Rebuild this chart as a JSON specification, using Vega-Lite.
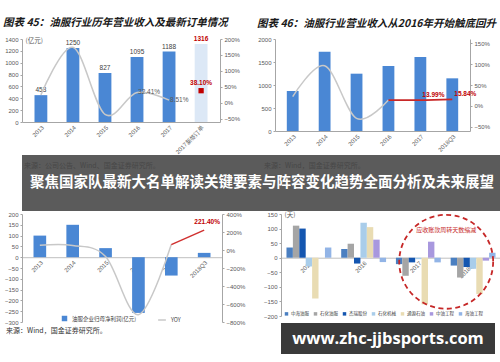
{
 "$schema": "https://vega.github.io/schema/vega-lite/v6.json",
 "background": "white",
 "padding": {"top": 18, "left": 0, "right": 0, "bottom": 0},
 "spacing": 0,
 "resolve": {"scale": {"color": "independent", "stroke": "independent"}, "legend": {"color": "independent", "stroke": "independent"}},
 "config": {
  "font": "Liberation Sans",
  "view": {"stroke": null},
  "axis": {"labelFontSize": 6, "labelColor": "#595959", "labelFont": "Liberation Sans", "domainColor": "#a6a6a6", "tickColor": "#a6a6a6", "tickSize": 2, "grid": false, "labelPadding": 2, "labelOverlap": false, "labelBound": false, "labelFlush": false},
  "legend": {"labelFont": "Noto Sans CJK SC", "labelColor": "#404040"}
 },
 "datasets": {
  "c45": [
   {"year": "2013", "rev": 453, "yoy": 0.25, "kind": "a"},
   {"year": "2014", "rev": 1250, "yoy": 1.74, "kind": "a"},
   {"year": "2015", "rev": 827, "yoy": -0.36, "kind": "a"},
   {"year": "2016", "rev": 1095, "yoy": 0.3241, "kind": "a", "ylab": "32.41%"},
   {"year": "2017", "rev": 1188, "yoy": 0.0851, "kind": "a", "ylab": "8.51%"},
   {"year": "2017新签订单", "rev": 1316, "yoy": 0.381, "kind": "o", "ylab": "38.10%"}
  ],
  "c46b": [
   {"year": "2013", "rev": 870}, {"year": "2014", "rev": 1724}, {"year": "2015", "rev": 1246},
   {"year": "2016", "rev": 1413}, {"year": "2017", "rev": 1609}, {"year": "2018Q3", "rev": 1145}
  ],
  "c46l": [
   {"year": "2013", "yoy": 0.22, "seg": "g"},
   {"year": "2014", "yoy": 0.96, "seg": "g"},
   {"year": "2015", "yoy": -0.3, "seg": "g"},
   {"year": "2016", "yoy": 0.14, "seg": "g"},
   {"year": "2016", "yoy": 0.14, "seg": "r"},
   {"year": "2017", "yoy": 0.1399, "seg": "r", "lab": "13.99%"},
   {"year": "2018Q3", "yoy": 0.1584, "seg": "r", "lab": "15.84%"}
  ],
  "c47b": [
   {"year": "2013", "np": 100, "series": "油服企业归母净利润(亿元)"}, {"year": "2014", "np": 150, "series": "油服企业归母净利润(亿元)"}, {"year": "2015", "np": 42, "series": "油服企业归母净利润(亿元)"},
   {"year": "2016", "np": -258, "series": "油服企业归母净利润(亿元)"}, {"year": "2017", "np": -85, "series": "油服企业归母净利润(亿元)"}, {"year": "2018Q3", "np": 20, "series": "油服企业归母净利润(亿元)"}
  ],
  "c47l": [
   {"year": "2013", "yoy": 0.52, "seg": "YOY"},
   {"year": "2014", "yoy": 0.5, "seg": "YOY"},
   {"year": "2015", "yoy": -0.72, "seg": "YOY"},
   {"year": "2016", "yoy": -7.19, "seg": "YOY"},
   {"year": "2017", "yoy": 0.6, "seg": "YOY"},
   {"year": "2017", "yoy": 0.6, "seg": "r"},
   {"year": "2018Q3", "yoy": 2.214, "seg": "r", "lab": "221.40%"}
  ],
  "c48": [
   {"year": "2015", "company": "中海油服", "v": 35}, {"year": "2015", "company": "石化油服", "v": 110}, {"year": "2015", "company": "杰瑞股份", "v": 100}, {"year": "2015", "company": "石化机械", "v": -30}, {"year": "2015", "company": "通源石油", "v": -140}, {"year": "2015", "company": "中油工程", "v": 0}, {"year": "2015", "company": "海油工程", "v": 35},
   {"year": "2016", "company": "中海油服", "v": 30}, {"year": "2016", "company": "石化油服", "v": 48}, {"year": "2016", "company": "杰瑞股份", "v": -20}, {"year": "2016", "company": "石化机械", "v": 120}, {"year": "2016", "company": "通源石油", "v": 105}, {"year": "2016", "company": "中油工程", "v": 62}, {"year": "2016", "company": "海油工程", "v": -15},
   {"year": "2017", "company": "中海油服", "v": -22}, {"year": "2017", "company": "石化油服", "v": -62}, {"year": "2017", "company": "杰瑞股份", "v": -16}, {"year": "2017", "company": "石化机械", "v": -5}, {"year": "2017", "company": "通源石油", "v": -160}, {"year": "2017", "company": "中油工程", "v": 55}, {"year": "2017", "company": "海油工程", "v": -16},
   {"year": "2018Q3", "company": "中海油服", "v": -27}, {"year": "2018Q3", "company": "石化油服", "v": -68}, {"year": "2018Q3", "company": "杰瑞股份", "v": -32}, {"year": "2018Q3", "company": "石化机械", "v": -38}, {"year": "2018Q3", "company": "通源石油", "v": -125}, {"year": "2018Q3", "company": "中油工程", "v": -10}, {"year": "2018Q3", "company": "海油工程", "v": 17}
  ]
 },
 "vconcat": [
  {
   "spacing": 8,
   "resolve": {"scale": {"color": "independent", "stroke": "independent"}, "legend": {"color": "independent", "stroke": "independent"}},
   "hconcat": [
    {
     "width": 198, "height": 83,
     "title": {"text": "图表 45：油服行业历年营业收入及最新订单情况", "anchor": "start", "frame": "bounds", "offset": 7, "fontSize": 10.5, "font": "Noto Sans CJK SC", "fontWeight": "bold", "fontStyle": "italic", "color": "#1a1a1a", "dx": 3},
     "data": {"name": "c45"},
     "encoding": {"x": {"field": "year", "type": "nominal", "sort": null, "title": null, "scale": {"paddingInner": 0.6, "paddingOuter": 0.39}, "axis": {"labelAngle": -45, "ticks": false, "minExtent": 31, "maxExtent": 31, "labelOverlap": false}}},
     "layer": [
      {"layer": [
       {"transform": [{"filter": "datum.kind === 'a'"}], "mark": {"type": "bar", "color": "#4a87d4"}, "encoding": {
         "y": {"field": "rev", "type": "quantitative", "scale": {"domain": [0, 1400]}, "axis": {"values": [0, 200, 400, 600, 800, 1000, 1200, 1400], "tickCount": 20, "labelOverlap": false, "format": "d", "title": "(亿元)", "titleAngle": 0, "titleX": 3, "titleY": 1, "titleAlign": "left", "titleBaseline": "middle", "titleFontSize": 6.5, "titleFontWeight": "normal", "titleColor": "#595959", "titleFont": "Noto Sans CJK SC", "minExtent": 22, "maxExtent": 22}}}},
       {"transform": [{"filter": "datum.kind === 'o'"}], "mark": {"type": "bar", "color": "#dce8f6"}, "encoding": {"y": {"field": "rev", "type": "quantitative"}}},
       {"transform": [{"filter": "datum.kind === 'a'"}], "mark": {"type": "text", "dy": -5, "fontSize": 6.5, "color": "#404040"}, "encoding": {"y": {"field": "rev", "type": "quantitative"}, "text": {"field": "rev", "type": "quantitative", "format": "d"}}},
       {"transform": [{"filter": "datum.kind === 'o'"}], "mark": {"type": "text", "dy": -5, "fontSize": 6.5, "fontWeight": "bold", "color": "#c00000"}, "encoding": {"y": {"field": "rev", "type": "quantitative"}, "text": {"field": "rev", "type": "quantitative", "format": "d"}}}
      ]},
      {"layer": [
       {"transform": [{"filter": "datum.kind === 'a'"}], "mark": {"type": "line", "interpolate": "cardinal", "color": "#c8c8c8", "strokeWidth": 1.5}, "encoding": {"y": {"field": "yoy", "type": "quantitative", "title": null, "scale": {"domain": [-0.5, 2]}, "axis": {"orient": "right", "format": ".0%", "values": [-0.5, 0, 0.5, 1, 1.5, 2], "tickCount": 20, "labelOverlap": false, "minExtent": 25, "maxExtent": 25}}}},
       {"transform": [{"filter": "datum.kind === 'a' && datum.ylab"}], "mark": {"type": "text", "align": "left", "dx": 1, "fontSize": 6.5, "color": "#595959"}, "encoding": {"y": {"field": "yoy", "type": "quantitative"}, "text": {"field": "ylab"}}},
       {"transform": [{"filter": "datum.kind === 'o'"}], "mark": {"type": "square", "size": 28, "color": "#c00000", "opacity": 1}, "encoding": {"y": {"field": "yoy", "type": "quantitative"}}},
       {"transform": [{"filter": "datum.kind === 'o'"}], "mark": {"type": "text", "dy": -8, "fontSize": 6.5, "fontWeight": "bold", "color": "#c00000"}, "encoding": {"y": {"field": "yoy", "type": "quantitative"}, "text": {"field": "ylab"}}}
      ]}
     ],
     "resolve": {"scale": {"y": "independent"}}
    },
    {
     "width": 195, "height": 92,
     "title": {"text": "图表 46：油服行业营业收入从2016年开始触底回升", "anchor": "start", "frame": "bounds", "offset": 7, "fontSize": 10.5, "font": "Noto Sans CJK SC", "fontWeight": "bold", "fontStyle": "italic", "color": "#1a1a1a", "dx": 4},
     "encoding": {"x": {"field": "year", "type": "nominal", "title": null, "scale": {"domain": ["2013", "2014", "2015", "2016", "2017", "2018Q3"], "paddingInner": 0.63, "paddingOuter": 0.37}, "axis": {"labelAngle": -45, "ticks": false, "minExtent": 22, "maxExtent": 22, "labelOverlap": false}}},
     "layer": [
      {"data": {"name": "c46b"}, "mark": {"type": "bar", "color": "#4a87d4"}, "encoding": {"y": {"field": "rev", "type": "quantitative", "title": null, "scale": {"domain": [0, 2000]}, "axis": {"values": [0, 500, 1000, 1500, 2000], "tickCount": 20, "labelOverlap": false, "format": "d", "minExtent": 22, "maxExtent": 22}}}},
      {"data": {"name": "c46l"}, "layer": [
       {"transform": [{"filter": "datum.seg === 'g'"}], "mark": {"type": "line", "interpolate": "cardinal", "color": "#c8c8c8", "strokeWidth": 1.5}, "encoding": {"y": {"field": "yoy", "type": "quantitative", "title": null, "scale": {"domain": [-0.5, 1.5]}, "axis": {"orient": "right", "format": ".0%", "values": [-0.5, 0, 0.5, 1, 1.5], "tickCount": 20, "labelOverlap": false, "minExtent": 28, "maxExtent": 28}}}},
       {"transform": [{"filter": "datum.seg === 'r'"}], "mark": {"type": "line", "interpolate": "cardinal", "color": "#c82828", "strokeWidth": 1.8}, "encoding": {"y": {"field": "yoy", "type": "quantitative"}}},
       {"transform": [{"filter": "datum.lab"}], "mark": {"type": "text", "align": "left", "dx": 2, "dy": -5, "fontSize": 6.5, "fontWeight": "bold", "color": "#c00000"}, "encoding": {"y": {"field": "yoy", "type": "quantitative"}, "text": {"field": "lab"}}}
      ]}
     ],
     "resolve": {"scale": {"y": "independent"}}
    }
   ]
  },
  {
   "hconcat": [
    {
     "width": 480, "height": 56,
     "view": {"fill": "#5b5b5b", "stroke": null},
     "encoding": {
      "y": {"datum": "b", "type": "nominal", "title": null, "axis": {"labels": false, "ticks": false, "domain": false, "labelPadding": 0, "tickSize": 0, "minExtent": 10, "maxExtent": 10}},
      "x": {"field": "side", "type": "nominal", "bandPosition": 0, "scale": {"type": "band", "domain": ["L", "R"], "paddingInner": 0, "paddingOuter": 0}, "axis": null}
     },
     "layer": [
      {"data": {"values": [{"side": "L", "t": "来源：公司公告、Wind、国金证券研究所。"}, {"side": "R", "t": "来源：Wind，国金证券研究所。"}]},
       "mark": {"type": "text", "align": "left", "dx": 2, "dy": -17, "fontSize": 7, "color": "#474747", "font": "Noto Sans CJK SC"},
       "encoding": {"text": {"field": "t"}}},
      {"data": {"values": [{"side": "R", "t": "聚焦国家队最新大名单解读关键要素与阵容变化趋势全面分析及未来展望"}]},
       "mark": {"type": "text", "align": "center", "color": "white", "fontSize": 14.5, "fontWeight": "bold", "font": "Noto Sans CJK SC"},
       "encoding": {"text": {"field": "t"}}}
     ]
    }
   ]
  },
  {
   "spacing": 8,
   "resolve": {"scale": {"color": "independent", "stroke": "independent"}, "legend": {"color": "independent", "stroke": "independent"}},
   "hconcat": [
    {
     "width": 200, "height": 108,
     "title": {"text": "来源：Wind，国金证券研究所。", "orient": "bottom", "anchor": "start", "frame": "bounds", "offset": 2, "fontSize": 7, "font": "Noto Sans CJK SC", "fontWeight": "normal", "color": "#333333", "dx": 2},
     "encoding": {"x": {"field": "year", "type": "nominal", "title": null, "scale": {"domain": ["2013", "2014", "2015", "2016", "2017", "2018Q3"], "paddingInner": 0.615, "paddingOuter": 0.35}, "axis": {"labelAngle": -45, "ticks": false, "offset": -64.8, "domainColor": "#bfbfbf", "labelOverlap": false}}},
     "layer": [
      {"data": {"name": "c47b"}, "mark": {"type": "bar"}, "encoding": {
        "y": {"field": "np", "type": "quantitative", "title": null, "scale": {"domain": [-300, 200]}, "axis": {"values": [-300, -250, -200, -150, -100, -50, 0, 50, 100, 150, 200], "tickCount": 20, "labelOverlap": false, "minExtent": 18, "maxExtent": 18}},
        "color": {"field": "series", "type": "nominal", "scale": {"domain": ["油服企业归母净利润(亿元)"], "range": ["#4a87d4"]}, "legend": {"orient": "none", "legendX": 39, "legendY": 101, "symbolType": "square", "symbolSize": 30, "labelFontSize": 5.5, "title": null, "padding": 0}}}},
      {"data": {"name": "c47l"}, "layer": [
       {"mark": {"type": "line", "interpolate": "cardinal", "strokeWidth": 1.5}, "encoding": {
         "y": {"field": "yoy", "type": "quantitative", "title": null, "scale": {"domain": [-8, 4]}, "axis": {"orient": "right", "format": ".0%", "values": [-8, -6, -4, -2, 0, 2, 4], "tickCount": 20, "labelOverlap": false, "minExtent": 27, "maxExtent": 27}},
         "stroke": {"field": "seg", "type": "nominal", "scale": {"domain": ["YOY", "r"], "range": ["#c8c8c8", "#d0302f"]}, "legend": {"values": ["YOY"], "orient": "none", "legendX": 135, "legendY": 101, "labelFontSize": 5.5, "title": null, "padding": 0, "symbolStrokeWidth": 1.5, "symbolSize": 60}}}},
       {"transform": [{"filter": "datum.lab"}], "mark": {"type": "text", "dx": 3, "dy": -8, "fontSize": 6.5, "fontWeight": "bold", "color": "#c00000"}, "encoding": {"y": {"field": "yoy", "type": "quantitative"}, "text": {"field": "lab"}}}
      ]}
     ],
     "resolve": {"scale": {"y": "independent"}}
    },
    {
     "spacing": 4,
     "vconcat": [
      {
       "width": 220, "height": 102,
       "encoding": {"x": {"field": "year", "type": "nominal", "title": null, "scale": {"domain": ["2015", "2016", "2017", "2018Q3"], "paddingInner": 0.18, "paddingOuter": 0.1}, "axis": {"labelAngle": -45, "ticks": false, "offset": -58.3, "domainColor": "#bfbfbf", "labelOverlap": false}}},
       "layer": [
        {"data": {"name": "c48"}, "mark": {"type": "bar"}, "encoding": {
          "xOffset": {"field": "company", "type": "nominal", "scale": {"domain": ["中海油服", "石化油服", "杰瑞股份", "石化机械", "通源石油", "中油工程", "海油工程"], "paddingInner": 0, "paddingOuter": 0}},
          "y": {"field": "v", "type": "quantitative", "scale": {"domain": [-200, 150]}, "axis": {"values": [-200, -150, -100, -50, 0, 50, 100, 150], "tickCount": 20, "labelOverlap": false, "title": "(天)", "titleAngle": 0, "titleX": 3, "titleY": 0, "titleAlign": "left", "titleBaseline": "middle", "titleFontSize": 6.5, "titleFontWeight": "normal", "titleColor": "#595959", "titleFont": "Noto Sans CJK SC", "minExtent": 22, "maxExtent": 22}},
          "color": {"field": "company", "type": "nominal", "scale": {"domain": ["中海油服", "石化油服", "杰瑞股份", "石化机械", "通源石油", "中油工程", "海油工程"], "range": ["#4a7fc1", "#a5a5a5", "#1456b0", "#a9cdea", "#e9dcb3", "#a898de", "#92b4e6"]}, "legend": {"orient": "none", "direction": "horizontal", "legendX": 3, "legendY": 97, "title": null, "symbolType": "square", "symbolSize": 12, "labelFontSize": 4.5, "columnPadding": 4, "labelOffset": 2, "padding": 0}}}},
        {"data": {"values": [{"year": "2017", "v": -14}]}, "mark": {"type": "point", "shape": "circle", "size": 8825, "filled": false, "color": "#c62828", "strokeWidth": 1.8, "strokeDash": [5, 3.5], "opacity": 1}, "encoding": {"x": {"field": "year", "type": "nominal", "bandPosition": 1.12, "scale": {"domain": ["2015", "2016", "2017", "2018Q3"]}}, "y": {"field": "v", "type": "quantitative"}}},
        {"data": {"values": [{"year": "2017", "v": 96, "t": "应收账款周转天数缩减"}]}, "mark": {"type": "text", "fontSize": 6, "color": "#c62828", "font": "Noto Sans CJK SC"}, "encoding": {"x": {"field": "year", "type": "nominal", "bandPosition": 1.12, "scale": {"domain": ["2015", "2016", "2017", "2018Q3"]}}, "y": {"field": "v", "type": "quantitative"}, "text": {"field": "t"}}}
       ]
      },
      {
       "width": 214, "height": 31,
       "view": {"fill": "#3a3a3a", "stroke": null},
       "data": {"values": [{"k": "w", "t": "www.zhc-jjbsports.com"}]},
       "mark": {"type": "text", "color": "white", "fontSize": 16.5, "fontWeight": "bold", "font": "Open Sans"},
       "encoding": {"y": {"field": "k", "type": "nominal", "title": null, "axis": {"labels": false, "ticks": false, "domain": false, "minExtent": 24, "maxExtent": 24}}, "text": {"field": "t"}}
      }
     ]
    }
   ]
  }
 ]
}
